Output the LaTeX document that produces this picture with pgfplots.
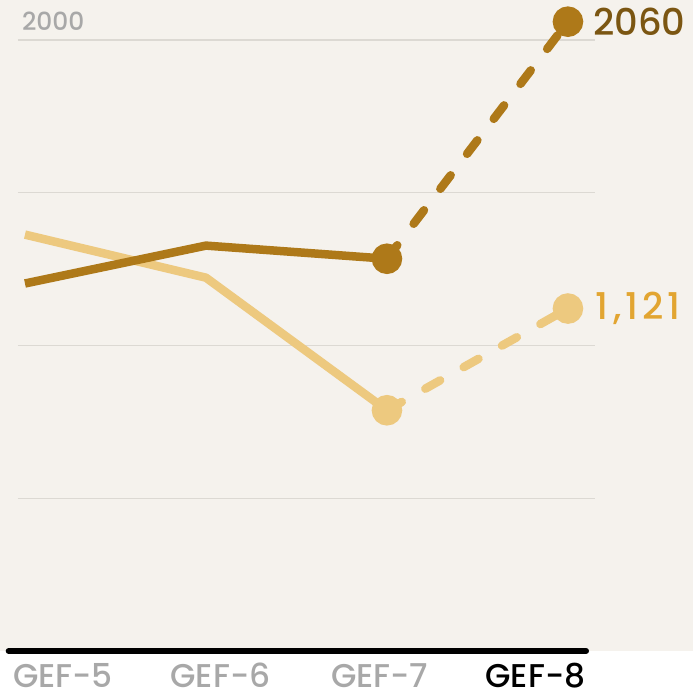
\documentclass[border=0pt]{standalone}
\usepackage{pgfplots}
\pgfplotsset{compat=1.18}
\usepackage{fontspec}
\setmainfont{Poppins Medium}
\definecolor{cBg}{HTML}{F5F2ED}
\definecolor{cGrid}{HTML}{DCD9D3}
\definecolor{cDark}{HTML}{AE7919}
\definecolor{cDarkTxt}{HTML}{7B5612}
\definecolor{cLight}{HTML}{EDC97F}
\definecolor{cLightTxt}{HTML}{E2A531}
\definecolor{cTick}{HTML}{A8A8A8}

\begin{document}
\begin{tikzpicture}[x=1bp,y=1bp]
\path[use as bounding box] (0,-47) rectangle (693,651);
\fill[cBg] (0,0) rectangle (693,651);
\begin{axis}[
  anchor=south west, at={(0,0)},
  width=693bp, height=651bp, scale only axis,
  xmin=-0.138, xmax=3.691, ymin=0, ymax=2131,
  hide axis, clip=false,
  every axis plot/.append style={line width=8.5bp},
]
% grid lines
\foreach \g in {500,1000,1500,2000}{
  \edef\tmp{\noexpand\draw[cGrid, line width=1.2bp] (axis cs:-0.039,\g) -- (axis cs:3.149,\g);}\tmp
}
\draw[black, line width=6bp, line cap=round] (axis cs:-0.090,0) -- (axis cs:3.100,0);
\node[anchor=base west, inner sep=0, font=\fontsize{25}{28}\selectfont, text=cTick] at (axis cs:-0.017,2030) {2000};

% light series
\addplot[cLight, line join=round] coordinates {(0,1363)(1,1222)(2,788)};
\addplot[cLight, dash pattern=on 17bp off 27bp, line cap=round] coordinates {(2,788)(3,1121)};
\addplot[only marks, mark=*, mark size=11bp, cLight] coordinates {(2,788)(3,1121)};
% dark series
\addplot[cDark, line join=round] coordinates {(0,1203)(1,1327)(2,1284)};
\addplot[cDark, dash pattern=on 17bp off 27bp, line cap=round] coordinates {(2,1284)(3,2060)};
\addplot[only marks, mark=*, mark size=11bp, cDark] coordinates {(2,1284)(3,2060)};

\node[anchor=west, inner sep=0, font=\fontsize{37}{40}\selectfont, text=cDarkTxt] at ([xshift=25bp]axis cs:3,2060) {2060};
\node[anchor=west, inner sep=0, font=\fontsize{37}{40}\selectfont, text=cLightTxt] at ([xshift=27bp]axis cs:3,1121) {1\kern5bp,\kern4bp1\kern4bp2\kern4bp1};

% category labels
\node[anchor=base, inner sep=0, font=\fontsize{33}{38}\selectfont, text=cTick] at ([yshift=-36bp]axis cs:0.21,0) {GEF-5};
\node[anchor=base, inner sep=0, font=\fontsize{33}{38}\selectfont, text=cTick] at ([yshift=-36bp]axis cs:1.08,0) {GEF-6};
\node[anchor=base, inner sep=0, font=\fontsize{33}{38}\selectfont, text=cTick] at ([yshift=-36bp]axis cs:1.96,0) {GEF-7};
\node[anchor=base, inner sep=0, font=\fontsize{33}{38}\selectfont, text=black] at ([yshift=-36bp]axis cs:2.82,0) {GEF-8};
\end{axis}
\end{tikzpicture}
\end{document}
